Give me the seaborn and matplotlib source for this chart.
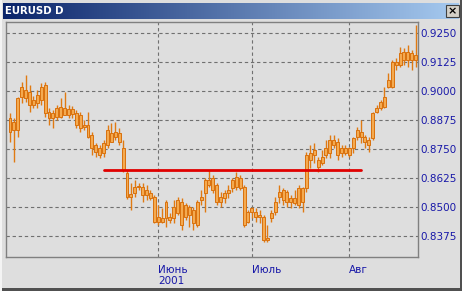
import numpy as np
import pandas as pd
import matplotlib
matplotlib.use("Agg")
import matplotlib.pyplot as plt
import matplotlib.patches as mpatches
import seaborn as sns

# ---------------- data ----------------
title = "EURUSD D"
opens = [0.8823, 0.8866, 0.8832, 0.8974, 0.9004, 0.8996, 0.8940, 0.8948, 0.8961, 0.9026,
         0.8909, 0.8884, 0.8888, 0.8931, 0.8897, 0.8922, 0.8901, 0.8905, 0.8897, 0.8853,
         0.8853, 0.8810, 0.8767, 0.8754, 0.8733, 0.8767, 0.8780, 0.8823, 0.8819, 0.8754,
         0.8647, 0.8543, 0.8560, 0.8586, 0.8586, 0.8552, 0.8560, 0.8543, 0.8435, 0.8453,
         0.8453, 0.8457, 0.8453, 0.8474, 0.8522, 0.8457, 0.8500, 0.8487, 0.8422, 0.8530,
         0.8560, 0.8616, 0.8573, 0.8595, 0.8522, 0.8539, 0.8560, 0.8582, 0.8586, 0.8625,
         0.8586, 0.8435, 0.8478, 0.8478, 0.8457, 0.8457, 0.8358, 0.8453, 0.8478, 0.8543,
         0.8530, 0.8565, 0.8522, 0.8539, 0.8509, 0.8522, 0.8582, 0.8733, 0.8724, 0.8703,
         0.8690, 0.8724, 0.8733, 0.8789, 0.8780, 0.8733, 0.8754, 0.8724, 0.8754, 0.8802,
         0.8823, 0.8802, 0.8789, 0.8797, 0.8909, 0.8927, 0.8931, 0.9017, 0.9017, 0.9125,
         0.9112, 0.9168, 0.9134, 0.9164, 0.9134]
highs = [0.8905, 0.8884, 0.8974, 0.9039, 0.9069, 0.9026, 0.8978, 0.9004, 0.9034, 0.9039,
         0.8927, 0.8918, 0.8940, 0.8970, 0.8996, 0.8940, 0.8935, 0.8918, 0.8909, 0.8875,
         0.8909, 0.8823, 0.8776, 0.8767, 0.8789, 0.8853, 0.8862, 0.8866, 0.8841, 0.8789,
         0.8659, 0.8603, 0.8616, 0.8603, 0.8603, 0.8595, 0.8573, 0.8552, 0.8509, 0.8496,
         0.8530, 0.8474, 0.8530, 0.8543, 0.8539, 0.8517, 0.8509, 0.8500, 0.8530, 0.8573,
         0.8625, 0.8659, 0.8638, 0.8603, 0.8565, 0.8573, 0.8595, 0.8625, 0.8651, 0.8638,
         0.8595, 0.8487, 0.8500, 0.8496, 0.8487, 0.8466, 0.8422, 0.8487, 0.8543, 0.8595,
         0.8582, 0.8573, 0.8552, 0.8573, 0.8595, 0.8586, 0.8737, 0.8767, 0.8776, 0.8716,
         0.8746, 0.8789, 0.8810, 0.8810, 0.8797, 0.8767, 0.8767, 0.8759, 0.8802, 0.8845,
         0.8875, 0.8810, 0.8802, 0.8909, 0.8940, 0.8961, 0.9017, 0.9078, 0.9134, 0.9142,
         0.9190, 0.9185, 0.9198, 0.9177, 0.9284]
lows = [0.8780, 0.8694, 0.8802, 0.8948, 0.8953, 0.8909, 0.8927, 0.8927, 0.8940, 0.8888,
        0.8853, 0.8841, 0.8875, 0.8884, 0.8897, 0.8884, 0.8884, 0.8841, 0.8823, 0.8832,
        0.8797, 0.8724, 0.8716, 0.8711, 0.8716, 0.8754, 0.8780, 0.8789, 0.8767, 0.8651,
        0.8534, 0.8487, 0.8543, 0.8573, 0.8522, 0.8530, 0.8530, 0.8431, 0.8422, 0.8431,
        0.8414, 0.8431, 0.8431, 0.8466, 0.8401, 0.8444, 0.8414, 0.8401, 0.8414, 0.8509,
        0.8478, 0.8586, 0.8560, 0.8509, 0.8500, 0.8517, 0.8539, 0.8565, 0.8573, 0.8573,
        0.8414, 0.8431, 0.8453, 0.8435, 0.8431, 0.8349, 0.8349, 0.8435, 0.8466, 0.8517,
        0.8509, 0.8500, 0.8496, 0.8509, 0.8496, 0.8478, 0.8565, 0.8668, 0.8690, 0.8651,
        0.8681, 0.8711, 0.8711, 0.8754, 0.8703, 0.8716, 0.8724, 0.8716, 0.8733, 0.8789,
        0.8776, 0.8754, 0.8737, 0.8789, 0.8905, 0.8918, 0.8927, 0.9013, 0.9013, 0.9091,
        0.9103, 0.9112, 0.9103, 0.9091, 0.9103]
closes = [0.8884, 0.8832, 0.8970, 0.9017, 0.8970, 0.8940, 0.8961, 0.8983, 0.9017, 0.8905,
          0.8884, 0.8905, 0.8927, 0.8888, 0.8927, 0.8897, 0.8922, 0.8853, 0.8841, 0.8845,
          0.8802, 0.8754, 0.8737, 0.8724, 0.8776, 0.8832, 0.8819, 0.8802, 0.8780, 0.8659,
          0.8543, 0.8556, 0.8586, 0.8591, 0.8552, 0.8573, 0.8539, 0.8435, 0.8457, 0.8435,
          0.8522, 0.8444, 0.8500, 0.8530, 0.8422, 0.8509, 0.8466, 0.8431, 0.8522, 0.8543,
          0.8616, 0.8595, 0.8625, 0.8522, 0.8543, 0.8560, 0.8573, 0.8616, 0.8629, 0.8582,
          0.8422, 0.8478, 0.8496, 0.8457, 0.8466, 0.8358, 0.8366, 0.8474, 0.8522, 0.8565,
          0.8573, 0.8522, 0.8539, 0.8517, 0.8582, 0.8582, 0.8724, 0.8703, 0.8746, 0.8672,
          0.8716, 0.8754, 0.8789, 0.8767, 0.8724, 0.8754, 0.8733, 0.8754, 0.8797, 0.8832,
          0.8802, 0.8780, 0.8767, 0.8905, 0.8927, 0.8953, 0.8974, 0.9047, 0.9125, 0.9112,
          0.9164, 0.9134, 0.9168, 0.9134, 0.9155]

month_tick_bars = [38, 62, 87]
month_tick_labels = ["Июнь\n2001", "Июль", "Авг"]
price_ticks = [0.8375, 0.8500, 0.8625, 0.8750, 0.8875, 0.9000, 0.9125, 0.9250]
resistance_level = 0.8659
resistance_bars = [24, 90]

# ---------------- style ----------------
sns.set_theme(style="white")
plt.rcParams['font.family'] = ['DejaVu Sans']

bg = '#DEDEDE'
grid_col = '#707070'
label_col = '#1818A8'
wick_col = '#E07A12'
body_face = '#F4AA50'
body_edge = '#D9700C'

df = pd.DataFrame({"bar": np.arange(len(opens)), "open": opens, "high": highs,
                   "low": lows, "close": closes})

W, H = 462, 291
fig = plt.figure(figsize=(W / 100, H / 100), dpi=100)
fig.patch.set_facecolor(bg)

ax = fig.add_axes([6 / W, 1 - 257 / H, 412 / W, 235 / H])
ax.set_facecolor(bg)

# grid
for p in price_ticks:
    ax.axhline(p, color=grid_col, lw=0.8, ls=(0, (3, 2.5)), zorder=0)
for b in month_tick_bars:
    ax.axvline(b, color=grid_col, lw=0.8, ls=(0, (3, 2.5)), zorder=0)

# candles
ax.vlines(df["bar"], df["low"], df["high"], color=wick_col, lw=1.0, zorder=2)
body_bot = np.minimum(df["open"], df["close"])
body_h = np.maximum(np.abs(df["close"] - df["open"]), 0.00012)
ax.bar(df["bar"], body_h, bottom=body_bot, width=0.75, color=body_face,
       edgecolor=body_edge, linewidth=0.7, zorder=3)

# resistance line
sns.lineplot(x=resistance_bars, y=[resistance_level] * len(resistance_bars),
             color='#E00000', lw=2.0, ax=ax, zorder=4)

ax.set_xlim(-1.03, 104.6)
ax.set_ylim(0.82845, 0.92974)

ax.yaxis.tick_right()
ax.set_yticks(price_ticks)
ax.set_yticklabels([f"{p:.4f}" for p in price_ticks])
ax.tick_params(axis='y', length=0, pad=2, labelsize=7.5, labelcolor=label_col)

ax.set_xticks(month_tick_bars)
ax.set_xticklabels(month_tick_labels)
ax.tick_params(axis='x', length=5, width=0.8, color=grid_col, pad=0.5,
               labelsize=7.5, labelcolor=label_col)
for lab in ax.get_xticklabels():
    lab.set_horizontalalignment('left')
    lab.set_linespacing(1.2)

for s in ax.spines.values():
    s.set_color('#808080')
    s.set_linewidth(1.0)
ax.set_xlabel('')
ax.set_ylabel('')
if ax.get_legend():
    ax.get_legend().remove()

# title bar with gradient
tax = fig.add_axes([3 / W, 1 - 19 / H, 456 / W, 16 / H])
c1 = np.array([10, 36, 106]) / 255
c2 = np.array([166, 202, 240]) / 255
t = np.linspace(0, 1, 256)[None, :, None]
grad = c1[None, None, :] * (1 - t) + c2[None, None, :] * t
tax.imshow(grad, aspect='auto', extent=[0, 1, 0, 1])
tax.set_axis_off()
fig.text(5 / W, 1 - 11 / H, title, color='white', fontsize=7.3,
         fontweight='bold', va='center', ha='left')

# close button
fig.patches.append(mpatches.Rectangle((446 / W, 1 - 17 / H), 13 / W, 12 / H,
                                      transform=fig.transFigure, facecolor='#D4D0C8',
                                      edgecolor='#404040', linewidth=0.8))
fig.text(452.5 / W, 1 - 11 / H, '×', color='black', fontsize=8, fontweight='bold',
         ha='center', va='center')

# window frame
fig.patches.append(mpatches.Rectangle((0, 0), 1, 3 / H, transform=fig.transFigure,
                                      facecolor='#505050', edgecolor='none'))
fig.patches.append(mpatches.Rectangle((1 - 2 / W, 0), 2 / W, 1, transform=fig.transFigure,
                                      facecolor='#505050', edgecolor='none'))
fig.patches.append(mpatches.Rectangle((0, 0), 1.5 / W, 1, transform=fig.transFigure,
                                      facecolor='#F4F4F4', edgecolor='none'))

fig.savefig('out.png', dpi=100, facecolor=fig.get_facecolor())
